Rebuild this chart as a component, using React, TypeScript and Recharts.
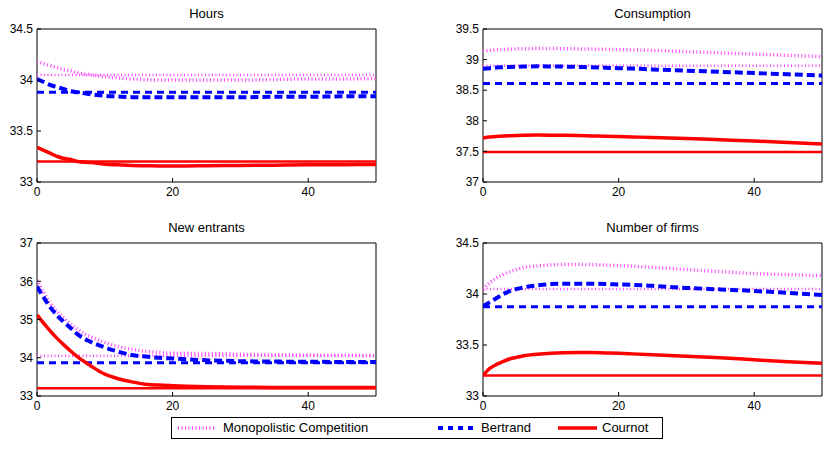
import React from "react";
import {
  LineChart,
  Line,
  XAxis,
  YAxis,
  ReferenceLine,
  ReferenceArea,
} from "recharts";

const periods = [0, 1, 2, 3, 4, 5, 6, 8, 10, 12, 14, 16, 18, 20, 22, 25, 30, 35, 40, 45, 50];

// Hours
const hoursMC = [34.18, 34.16, 34.14, 34.12, 34.1, 34.09, 34.07, 34.05, 34.03, 34.02, 34.01, 34.005, 34.0, 34.0, 34.0, 34.0, 34.0, 34.005, 34.01, 34.01, 34.015];
const hoursBE = [34.01, 33.98, 33.95, 33.93, 33.91, 33.89, 33.88, 33.86, 33.845, 33.838, 33.832, 33.83, 33.83, 33.83, 33.83, 33.83, 33.83, 33.835, 33.835, 33.84, 33.84];
const hoursCO = [33.34, 33.31, 33.28, 33.25, 33.23, 33.22, 33.2, 33.19, 33.175, 33.168, 33.162, 33.16, 33.158, 33.158, 33.158, 33.16, 33.162, 33.165, 33.168, 33.17, 33.172];
const hoursSS = { mc: 34.05, be: 33.88, co: 33.2 };

// Consumption
const consMC = [39.14, 39.15, 39.16, 39.165, 39.17, 39.175, 39.178, 39.18, 39.18, 39.178, 39.175, 39.172, 39.168, 39.163, 39.158, 39.15, 39.13, 39.11, 39.09, 39.07, 39.05];
const consBE = [38.85, 38.86, 38.87, 38.875, 38.88, 38.884, 38.887, 38.89, 38.888, 38.885, 38.88, 38.875, 38.868, 38.86, 38.853, 38.84, 38.82, 38.8, 38.78, 38.76, 38.74];
const consCO = [37.72, 37.735, 37.745, 37.752, 37.757, 37.761, 37.764, 37.766, 37.765, 37.762, 37.758, 37.753, 37.748, 37.742, 37.736, 37.727, 37.71, 37.69, 37.67, 37.645, 37.62];
const consSS = { mc: 38.9, be: 38.61, co: 37.49 };

// New entrants
const entMC = [36.03, 35.7, 35.42, 35.2, 35.03, 34.88, 34.74, 34.54, 34.4, 34.29, 34.22, 34.17, 34.14, 34.12, 34.115, 34.11, 34.09, 34.08, 34.07, 34.065, 34.06];
const entBE = [35.86, 35.57, 35.31, 35.1, 34.93, 34.77, 34.61, 34.41, 34.27, 34.16, 34.07, 34.03, 34.0, 33.98, 33.96, 33.935, 33.91, 33.9, 33.895, 33.89, 33.89];
const entCO = [35.12, 34.9, 34.69, 34.5, 34.33, 34.17, 34.02, 33.78, 33.57, 33.45, 33.37, 33.31, 33.285, 33.27, 33.258, 33.245, 33.232, 33.225, 33.222, 33.22, 33.22];
const entSS = { mc: 34.05, be: 33.87, co: 33.2 };

// Number of firms
const firmsMC = [34.05, 34.11, 34.16, 34.19, 34.22, 34.24, 34.26, 34.275, 34.285, 34.29, 34.29, 34.288, 34.283, 34.278, 34.272, 34.262, 34.24, 34.22, 34.2, 34.19, 34.18];
const firmsBE = [33.88, 33.92, 33.96, 34.0, 34.03, 34.05, 34.065, 34.085, 34.097, 34.1, 34.1, 34.1, 34.098, 34.094, 34.09, 34.08, 34.06, 34.045, 34.03, 34.01, 33.99];
const firmsCO = [33.2, 33.27, 33.31, 33.34, 33.365, 33.38, 33.395, 33.41, 33.42, 33.425, 33.427, 33.426, 33.422, 33.418, 33.413, 33.405, 33.39, 33.375, 33.355, 33.335, 33.32];
const firmsSS = { mc: 34.05, be: 33.875, co: 33.2 };

const xTicks = [0, 20, 40];

const MAGENTA = "#ff44ff";
const BLUE = "#0000ff";
const RED = "#ff0000";
const FONT = "'Liberation Sans', Arial, Helvetica, sans-serif";

const rows = (mc: number[], be: number[], co: number[]) =>
  periods.map((t, i) => ({ t, mc: mc[i], be: be[i], co: co[i] }));

const NoLabel = () => <g />;

type PanelProps = {
  title: string;
  left: number;
  top: number;
  width: number;
  data: { t: number; mc: number; be: number; co: number }[];
  ss: { mc: number; be: number; co: number };
  domain: [number, number];
  ticks: number[];
};

function Panel({ title, left, top, width, data, ss, domain, ticks }: PanelProps) {
  const tickStyle = { fontSize: 12, fill: "#000", fontFamily: FONT };
  return (
    <div style={{ position: "absolute", left, top, width, height: 200 }}>
      <div
        style={{
          position: "absolute",
          left: 37,
          width: 339,
          top: 6,
          textAlign: "center",
          fontSize: 13,
          lineHeight: "16px",
          fontFamily: FONT,
        }}
      >
        {title}
      </div>
      <LineChart
        width={width}
        height={200}
        data={data}
        margin={{ top: 29, right: width - 376, left: 0, bottom: 0 }}
        style={{ position: "absolute", left: 0, top: 0 }}
      >
        <XAxis
          dataKey="t"
          type="number"
          domain={[0, 50]}
          ticks={xTicks}
          height={18}
          tickSize={-4}
          tickMargin={9}
          axisLine={false}
          tickLine={{ stroke: "#000" }}
          tick={tickStyle}
          allowDataOverflow
        />
        <XAxis
          xAxisId="top"
          orientation="top"
          dataKey="t"
          type="number"
          domain={[0, 50]}
          ticks={xTicks}
          height={0}
          tickSize={-4}
          axisLine={false}
          tickLine={{ stroke: "#000" }}
          tick={NoLabel}
        />
        <YAxis
          type="number"
          domain={domain}
          ticks={ticks}
          width={37}
          tickSize={-4}
          tickMargin={8}
          axisLine={false}
          tickLine={{ stroke: "#000" }}
          tick={tickStyle}
          allowDataOverflow
        />
        <YAxis
          yAxisId="right"
          orientation="right"
          type="number"
          domain={domain}
          ticks={ticks}
          width={0}
          tickSize={-4}
          axisLine={false}
          tickLine={{ stroke: "#000" }}
          tick={NoLabel}
        />
        <ReferenceLine y={ss.mc} stroke={MAGENTA} strokeWidth={2.5} strokeDasharray="1 2.5" />
        <ReferenceLine y={ss.be} stroke={BLUE} strokeWidth={3} strokeDasharray="7 5" />
        <ReferenceLine y={ss.co} stroke={RED} strokeWidth={2.5} />
        <Line
          type="monotone"
          dataKey="mc"
          stroke={MAGENTA}
          strokeWidth={3.5}
          strokeDasharray="1 2.5"
          dot={false}
          isAnimationActive={false}
        />
        <Line
          type="monotone"
          dataKey="be"
          stroke={BLUE}
          strokeWidth={4}
          strokeDasharray="8 4"
          dot={false}
          isAnimationActive={false}
        />
        <Line
          type="monotone"
          dataKey="co"
          stroke={RED}
          strokeWidth={3.5}
          dot={false}
          isAnimationActive={false}
        />
        <ReferenceArea
          x1={0}
          x2={50}
          y1={domain[0]}
          y2={domain[1]}
          fill="none"
          stroke="#000"
          strokeWidth={1}
          ifOverflow="visible"
        />
      </LineChart>
    </div>
  );
}

function LegendBox() {
  const item = (x: number, sample: React.ReactNode, label: string, tx: number) => (
    <>
      <svg style={{ position: "absolute", left: x, top: 4 }} width={40} height={12}>
        {sample}
      </svg>
      <span style={{ position: "absolute", left: tx, top: 2, fontSize: 13, lineHeight: "16px" }}>
        {label}
      </span>
    </>
  );
  return (
    <div
      style={{
        position: "absolute",
        left: 171,
        top: 417,
        width: 490,
        height: 20,
        border: "1px solid #000",
        fontFamily: FONT,
        background: "#fff",
      }}
    >
      {item(
        6,
        <line x1={0} y1={6} x2={36} y2={6} stroke={MAGENTA} strokeWidth={3.5} strokeDasharray="1 2.5" />,
        "Monopolistic Competition",
        51
      )}
      {item(
        266,
        <line x1={0} y1={6} x2={38} y2={6} stroke={BLUE} strokeWidth={4} strokeDasharray="5 5" />,
        "Bertrand",
        309
      )}
      {item(
        386,
        <line x1={0} y1={6} x2={39} y2={6} stroke={RED} strokeWidth={3.5} />,
        "Cournot",
        430
      )}
    </div>
  );
}

export default function App() {
  return (
    <div
      style={{
        position: "absolute",
        left: 0,
        top: 0,
        width: 827,
        height: 450,
        background: "#fff",
        overflow: "hidden",
      }}
    >
      <Panel
        title="Hours"
        left={0}
        top={0}
        width={400}
        data={rows(hoursMC, hoursBE, hoursCO)}
        ss={hoursSS}
        domain={[33, 34.5]}
        ticks={[33, 33.5, 34, 34.5]}
      />
      <Panel
        title="Consumption"
        left={446}
        top={0}
        width={381}
        data={rows(consMC, consBE, consCO)}
        ss={consSS}
        domain={[37, 39.5]}
        ticks={[37, 37.5, 38, 38.5, 39, 39.5]}
      />
      <Panel
        title="New entrants"
        left={0}
        top={214}
        width={400}
        data={rows(entMC, entBE, entCO)}
        ss={entSS}
        domain={[33, 37]}
        ticks={[33, 34, 35, 36, 37]}
      />
      <Panel
        title="Number of firms"
        left={446}
        top={214}
        width={381}
        data={rows(firmsMC, firmsBE, firmsCO)}
        ss={firmsSS}
        domain={[33, 34.5]}
        ticks={[33, 33.5, 34, 34.5]}
      />
      <LegendBox />
    </div>
  );
}
